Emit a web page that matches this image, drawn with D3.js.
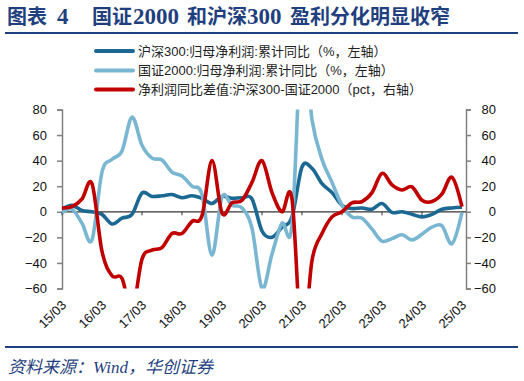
<!DOCTYPE html>
<html>
<head>
<meta charset="utf-8">
<script src="https://cdn.jsdelivr.net/npm/d3@7"></script>
<style>
html,body{margin:0;padding:0;background:#fff;}
svg{display:block;}
</style>
</head>
<body>
<svg id="chart" width="524" height="381"></svg>
<script>
// ---- data ----
const xLabels = ["15/03","16/03","17/03","18/03","19/03","20/03","21/03","22/03","23/03","24/03","25/03"];
const seriesNames = [
  "沪深300:归母净利润:累计同比（%，左轴）",
  "国证2000:归母净利润:累计同比（%，左轴）",
  "净利润同比差值:沪深300-国证2000（pct，右轴）"
];
// quarterly, 15/03 .. 25/03
const hs300 = [2,5,1,0,-2,-9.5,-5,-2,14.6,12,12.5,13.5,11,12.5,10.5,6.5,12,10.5,11,10,-15,-20,-12,-4,35,34,22,15,5,2.5,3,2,6.5,-0.5,0,-2,-4,-2,2,3,3.5];
const csi2000 = [-1,2,-9,-22,31,41,47.5,74,52,42,40.5,31,28,20,13.5,-34,11.5,5,3,-13,-60,-33,-9,-10,140,72,41,23,5,-4,-5,-13.5,-23,-21,-18,-22,-17.5,-12,-11,-25,-0.5];
const spread = [3,4,10,22,-31,-50,-52,-78,-37,-30,-28,-17,-17,-7.5,-3,40,-1,7,9,23,40,15,0,10,-105,-38,-17,-4,0,7,8,15,30,21,17,19.5,9,8,14,27,4];
const yTicks = [-60,-40,-20,0,20,40,60,80];

// ---- layout ----
const svg = d3.select("#chart");
const plot = {left:62, right:466, top:109.5, bottom:288.5};
const colors = ["#1B6893","#79B6D1","#C00000"];
const navy = "#1F3F7E";

const x = d3.scaleLinear().domain([0, 40.4]).range([plot.left, plot.right]);
const yL = d3.scaleLinear().domain([-60, 80]).range([plot.bottom, plot.top]);
const yR = d3.scaleLinear().domain([-60, 80]).range([plot.bottom, plot.top]);

// title
const title = svg.append("text").attr("y", 24).attr("fill", navy)
  .style("font-weight", "bold").style("font-size", "20px")
  .style("font-family", "'Liberation Serif','Noto Sans CJK SC',serif");
[["图表",7],["4",57],["国证",92],["2000",133],["和沪深",187],["300",247],["盈利分化明显收窄",290]]
  .forEach(([t,px]) => {
    const ts = title.append("tspan").attr("x", px).text(t);
    if (/^\d+$/.test(t)) ts.style("font-size","23px");
  });
svg.append("line").attr("x1",5).attr("x2",518).attr("y1",33).attr("y2",33)
  .attr("stroke", navy).attr("stroke-width", 2);

// legend
const legY = [51, 70.5, 89.5];
seriesNames.forEach((n,k) => {
  svg.append("line").attr("x1",96).attr("x2",133).attr("y1",legY[k]).attr("y2",legY[k])
    .attr("stroke", colors[k]).attr("stroke-width", 4).attr("stroke-linecap","round");
  svg.append("text").attr("x",138).attr("y",legY[k]+4.5).text(n)
    .attr("fill","#222").style("font-size","13px")
    .style("font-family","'Liberation Sans','Noto Sans CJK SC',sans-serif");
});

// axes
const axisFont = "'Liberation Sans',Arial,sans-serif";
const gL = svg.append("g").attr("transform",`translate(${plot.left},0)`)
  .call(d3.axisLeft(yL).tickValues(yTicks).tickSize(5).tickPadding(10).tickFormat(d3.format("d")));
const gR = svg.append("g").attr("transform",`translate(${plot.right},0)`)
  .call(d3.axisRight(yR).tickValues(yTicks).tickSize(5).tickPadding(25).tickFormat(d3.format("d")));
gR.selectAll("text").attr("text-anchor","end");
[gL,gR].forEach(g => {
  g.select(".domain").attr("stroke","#808080").attr("stroke-width",1.5);
  g.selectAll(".tick line").attr("stroke","#808080").attr("stroke-width",1.5);
  g.selectAll("text").attr("fill","#111").style("font-size","13px").style("font-family",axisFont);
});

// zero axis with year ticks
const tickIdx = xLabels.map((d,k) => k*4);
const gX = svg.append("g").attr("transform",`translate(0,${yL(0)})`);
gX.append("line").attr("x1",plot.left).attr("x2",plot.right).attr("stroke","#333").attr("stroke-width",1.2);
gX.selectAll("line.tk").data(tickIdx).join("line").attr("class","tk")
  .attr("x1",d=>x(d)).attr("x2",d=>x(d)).attr("y1",0).attr("y2",3.5)
  .attr("stroke","#333").attr("stroke-width",1);

// x labels
svg.append("g").selectAll("text").data(xLabels).join("text")
  .attr("transform",(d,k)=>`translate(${x(tickIdx[k])+5},306) rotate(-45)`)
  .attr("text-anchor","end").text(d=>d)
  .attr("fill","#111").style("font-size","13px").style("font-family",axisFont);

// lines
svg.append("clipPath").attr("id","clip").append("rect")
  .attr("x",plot.left).attr("y",plot.top).attr("width",plot.right-plot.left).attr("height",plot.bottom-plot.top);
const lineL = d3.line().x((d,k)=>x(k)).y(d=>yL(d)).curve(d3.curveCardinal.tension(0));
const lineR = d3.line().x((d,k)=>x(k)).y(d=>yR(d)).curve(d3.curveCardinal.tension(0));
const gLines = svg.append("g").attr("clip-path","url(#clip)");
[[hs300,lineL,0],[csi2000,lineL,1],[spread,lineR,2]].forEach(([data,gen,k]) => {
  gLines.append("path").attr("d",gen(data)).attr("fill","none")
    .attr("stroke",colors[k]).attr("stroke-width",3.6).attr("stroke-linejoin","round");
});

// bottom rule and source
svg.append("line").attr("x1",5).attr("x2",518).attr("y1",347).attr("y2",347)
  .attr("stroke", navy).attr("stroke-width", 2);
svg.append("text").attr("x",8).attr("y",373).text("资料来源：Wind，华创证券")
  .attr("fill", navy).style("font-style","italic").style("font-size","17px")
  .style("font-family","'Liberation Serif','Noto Sans CJK SC',serif");
</script>
</body>
</html>
